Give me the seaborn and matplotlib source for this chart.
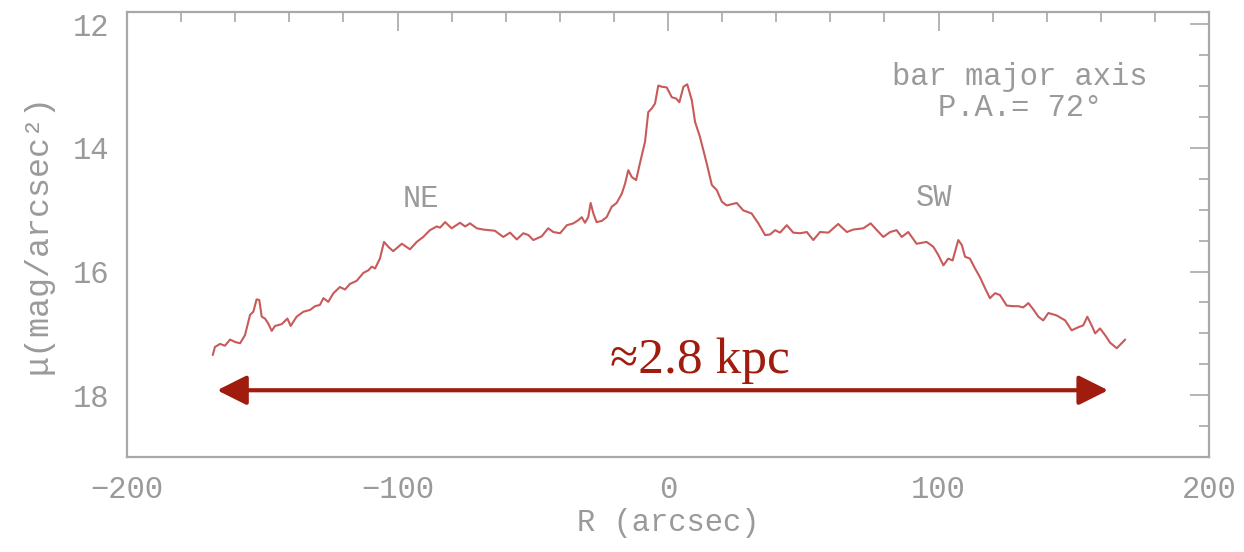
import matplotlib
matplotlib.use("Agg")
import matplotlib.pyplot as plt
import seaborn as sns
import pandas as pd

# ---- data ----
R = [-168.3, -167.5, -165.6, -163.8, -161.9, -160.0, -158.2, -156.4, -154.5, -153.3,
     -152.1, -151.1, -150.2, -149.0, -147.8, -146.5, -145.3, -142.8, -140.7, -139.5,
     -137.3, -134.8, -132.3, -130.5, -128.7, -127.4, -125.6, -123.7, -121.3, -119.4,
     -117.6, -115.1, -112.6, -110.8, -109.5, -108.3, -106.5, -105.0, -103.4, -101.6,
     -98.4, -95.4, -92.9, -90.5, -88.0, -85.5, -84.3, -82.4, -80.0, -76.9,
     -75.0, -73.2, -70.7, -68.3, -64.0, -60.9, -58.4, -55.9, -53.5, -51.6,
     -49.8, -46.7, -44.3, -42.4, -39.9, -37.4, -35.0, -33.2, -31.9, -30.7,
     -29.5, -28.6, -27.6, -26.4, -24.5, -22.7, -20.8, -19.0, -17.1, -15.9,
     -14.7, -13.4, -11.8, -10.4, -8.5, -7.3, -6.0, -4.8, -3.6, -2.3,
     -0.5, 1.4, 3.0, 4.2, 5.7, 7.1, 8.8, 10.0, 11.8, 14.3,
     16.2, 18.0, 19.9, 21.7, 25.4, 27.8, 30.9, 33.4, 35.9, 37.7,
     39.6, 41.4, 43.9, 46.3, 48.8, 51.3, 53.7, 56.2, 59.3, 62.9,
     66.1, 68.5, 72.2, 74.9, 77.2, 79.6, 82.1, 84.5, 86.4, 88.8,
     91.9, 95.6, 98.1, 99.9, 101.8, 103.6, 105.2, 107.3, 108.6, 109.8,
     111.6, 113.5, 115.3, 117.2, 119.0, 120.9, 122.7, 125.2, 127.6, 129.5,
     131.3, 133.2, 135.0, 136.9, 138.7, 140.6, 143.7, 146.8, 149.2, 151.7,
     153.5, 155.0, 156.6, 157.9, 159.7, 161.6, 163.4, 165.9, 167.7, 169.0]

mu = [17.35, 17.22, 17.17, 17.20, 17.10, 17.14, 17.16, 17.03, 16.70, 16.65,
      16.45, 16.46, 16.73, 16.76, 16.84, 16.96, 16.88, 16.85, 16.76, 16.88,
      16.73, 16.65, 16.62, 16.56, 16.54, 16.43, 16.49, 16.35, 16.25, 16.29,
      16.20, 16.15, 16.02, 15.98, 15.92, 15.95, 15.79, 15.52, 15.60, 15.67,
      15.55, 15.64, 15.52, 15.44, 15.33, 15.27, 15.29, 15.20, 15.30, 15.21,
      15.27, 15.22, 15.30, 15.32, 15.34, 15.44, 15.37, 15.48, 15.38, 15.41,
      15.49, 15.43, 15.30, 15.36, 15.38, 15.25, 15.22, 15.17, 15.12, 15.21,
      15.12, 14.89, 15.06, 15.20, 15.18, 15.12, 14.95, 14.89, 14.74, 14.58,
      14.36, 14.47, 14.52, 14.25, 13.90, 13.42, 13.36, 13.28, 12.99, 13.01,
      13.02, 13.18, 13.20, 13.26, 13.01, 12.97, 13.23, 13.58, 13.82, 14.25,
      14.60, 14.68, 14.87, 14.93, 14.89, 15.01, 15.06, 15.22, 15.41, 15.40,
      15.33, 15.37, 15.25, 15.37, 15.38, 15.36, 15.49, 15.36, 15.37, 15.23,
      15.36, 15.32, 15.30, 15.22, 15.33, 15.44, 15.36, 15.33, 15.44, 15.36,
      15.55, 15.52, 15.60, 15.73, 15.90, 15.79, 15.82, 15.49, 15.57, 15.76,
      15.79, 15.95, 16.09, 16.27, 16.43, 16.35, 16.38, 16.55, 16.56, 16.56,
      16.58, 16.51, 16.61, 16.73, 16.79, 16.67, 16.71, 16.79, 16.95, 16.90,
      16.87, 16.73, 16.87, 17.00, 16.92, 17.03, 17.15, 17.24, 17.16, 17.10]

xticks = [-200, -100, 0, 100, 200]
yticks = [12, 14, 16, 18]
side_labels = ["NE", "SW"]
side_pos = [(-91.3, 14.83), (98.3, 14.81)]
arrow_span = (-166.7, 162.7)
arrow_mu = 17.92
arrow_label = "≈2.8 kpc"

# ---- style ----
sns.set_style("white")
plt.rcParams["font.family"] = ["Liberation Mono", "DejaVu Sans Mono", "DejaVu Sans"]

GRAY = "#9a9a9a"
LINE = "#c85a5a"
RED = "#a01c0e"

fig = plt.figure(figsize=(12.44, 5.52), dpi=100)
ax = fig.add_axes([0.1021, 0.1721, 0.8698, 0.8062])

df = pd.DataFrame({"R": R, "mu": mu})
sns.lineplot(data=df, x="R", y="mu", ax=ax, sort=False, color=LINE, lw=1.5)

ax.set_xlim(-200, 200)
ax.set_ylim(19.0, 11.8)
ax.set_xticks(xticks)
ax.set_xticks(range(-200, 201, 20), minor=True)
ax.set_yticks(yticks)
ax.set_yticks([12 + 0.5 * i for i in range(15)], minor=True)
ax.set_xticklabels([f"{t:d}".replace("-", "\u2212") for t in xticks])

for s in ax.spines.values():
    s.set_color("#a8a8a8")
    s.set_linewidth(1.6)

ax.tick_params(which="both", direction="in", top=True, right=True,
               color="#a8a8a8", labelcolor=GRAY, labelsize=22)
ax.tick_params(which="major", length=14, width=1.2, pad=13)
ax.tick_params(which="minor", length=7, width=1.2)

ax.set_xlabel("R (arcsec)", color=GRAY, fontsize=22, labelpad=2)
ax.set_ylabel("\u03bc(mag/arcsec\u00b2)", color=GRAY, fontsize=24, labelpad=14)

ax.text(130, 13.1, "bar major axis\nP.A.= 72\u00b0", color=GRAY, fontsize=22,
        ha="center", va="center", linespacing=1.05)
for lab, (px, py) in zip(side_labels, side_pos):
    ax.text(px, py, lab, color=GRAY, fontsize=22, ha="center", va="center")

ax.annotate("", xy=(arrow_span[1], arrow_mu), xytext=(arrow_span[0], arrow_mu),
            arrowprops=dict(arrowstyle="<|-|>,head_length=0.6,head_width=0.3",
                            color=RED, lw=3, mutation_scale=30,
                            shrinkA=0, shrinkB=0))
ax.text(11.8, 17.64, arrow_label, color=RED, fontsize=37, ha="center",
        va="baseline", family=["Liberation Serif", "DejaVu Serif"])

fig.savefig("out.png", dpi=100)
